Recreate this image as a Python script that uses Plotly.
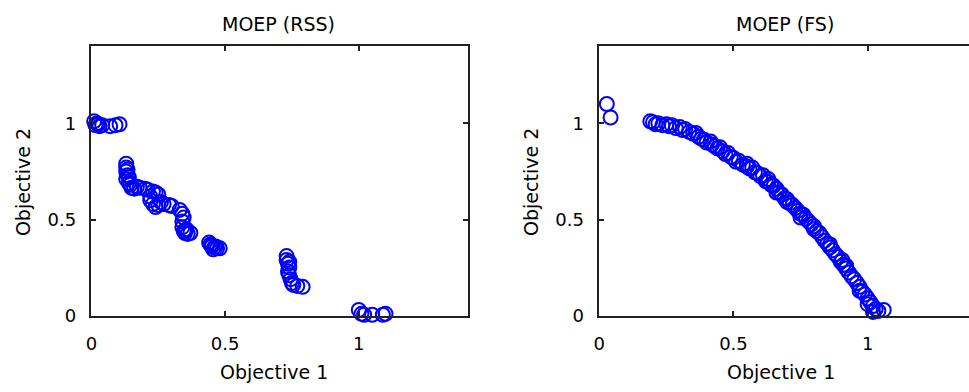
import plotly.graph_objects as go

# ---- data: MOEP (RSS) ----
rss_x = [0.01, 0.015, 0.02, 0.03, 0.04, 0.07, 0.09, 0.105, 0.025,
         0.13, 0.13, 0.13, 0.135, 0.13, 0.14, 0.145, 0.15, 0.16, 0.14, 0.135,
         0.18, 0.20, 0.21, 0.23, 0.25, 0.22, 0.17, 0.24,
         0.22, 0.23, 0.25, 0.27, 0.29, 0.30, 0.24, 0.26,
         0.33, 0.34, 0.345, 0.34,
         0.34, 0.345, 0.35, 0.36, 0.37, 0.355, 0.35,
         0.44, 0.445, 0.45, 0.46, 0.47, 0.455, 0.465, 0.48, 0.45,
         0.73, 0.73, 0.735, 0.74, 0.735, 0.74, 0.745, 0.75, 0.755, 0.77, 0.79, 0.74,
         1.00, 1.01, 1.02, 1.05, 1.09, 1.10]
rss_y = [1.01, 0.99, 1.0, 0.985, 0.99, 0.985, 0.99, 0.995, 0.995,
         0.79, 0.77, 0.75, 0.73, 0.71, 0.69, 0.68, 0.665, 0.66, 0.72, 0.76,
         0.665, 0.66, 0.655, 0.645, 0.63, 0.62, 0.67, 0.64,
         0.60, 0.58, 0.575, 0.58, 0.575, 0.57, 0.565, 0.59,
         0.55, 0.53, 0.51, 0.49,
         0.46, 0.44, 0.43, 0.425, 0.43, 0.45, 0.44,
         0.38, 0.37, 0.36, 0.355, 0.35, 0.345, 0.36, 0.35, 0.365,
         0.31, 0.29, 0.27, 0.25, 0.23, 0.21, 0.19, 0.17, 0.16, 0.155, 0.15, 0.28,
         0.03, 0.01, 0.005, 0.005, 0.005, 0.01]

# ---- data: MOEP (FS) ----
fs_x = [0.028, 0.042,
        0.19, 0.20, 0.21, 0.22, 0.235, 0.25, 0.26, 0.27, 0.285, 0.30, 0.31, 0.32, 0.335, 0.35,
        0.36, 0.37, 0.38, 0.39, 0.40, 0.415, 0.43, 0.44, 0.45, 0.46, 0.47, 0.48, 0.49, 0.50,
        0.51, 0.52, 0.535, 0.55, 0.56, 0.57, 0.58, 0.59, 0.60, 0.61, 0.62, 0.63, 0.64, 0.65,
        0.66, 0.67, 0.68, 0.69, 0.70, 0.71, 0.72, 0.73, 0.74, 0.75, 0.76, 0.77, 0.78, 0.79,
        0.80, 0.81, 0.82, 0.83, 0.84, 0.85, 0.86, 0.87, 0.88, 0.89, 0.90, 0.905, 0.91, 0.92,
        0.93, 0.94, 0.95, 0.96, 0.97, 0.98, 0.99, 1.00, 1.01, 1.02, 1.03, 1.04, 1.06,
        0.42, 0.55, 0.63, 0.66, 0.70, 0.75, 0.80, 0.86, 0.92, 0.97, 1.00, 1.02]
fs_y = [1.10, 1.03,
        1.01, 1.005, 0.995, 1.0, 0.99, 0.995, 0.985, 0.99, 0.975, 0.98, 0.965, 0.97, 0.955, 0.945,
        0.95, 0.93, 0.92, 0.915, 0.90, 0.905, 0.88, 0.87, 0.875, 0.855, 0.84, 0.845, 0.825, 0.82,
        0.80, 0.805, 0.785, 0.775, 0.765, 0.77, 0.745, 0.74, 0.725, 0.73, 0.70, 0.695, 0.68, 0.675,
        0.66, 0.64, 0.63, 0.61, 0.605, 0.585, 0.575, 0.56, 0.545, 0.53, 0.525, 0.505, 0.49, 0.475,
        0.465, 0.44, 0.43, 0.41, 0.39, 0.375, 0.355, 0.34, 0.32, 0.305, 0.28, 0.29, 0.265, 0.245,
        0.225, 0.205, 0.19, 0.17, 0.15, 0.125, 0.11, 0.09, 0.07, 0.05, 0.035, 0.025, 0.03,
        0.89, 0.79, 0.71, 0.64, 0.59, 0.51, 0.45, 0.37, 0.26, 0.13, 0.06, 0.02]

titles = ["MOEP (RSS)", "MOEP (FS)"]
xlabel = "Objective 1"
ylabel = "Objective 2"
tick_vals = [0, 0.5, 1]
tick_text = ["0", "0.5", "1"]

W, H = 969, 392
FONT = "DejaVu Sans"
BLUE = "#0000FF"

marker = dict(symbol="circle-open", size=14, color=BLUE, line=dict(width=2, color=BLUE))

fig = go.Figure()
fig.add_trace(go.Scatter(x=rss_x, y=rss_y, mode="markers", marker=marker,
                         xaxis="x", yaxis="y", showlegend=False, cliponaxis=False))
fig.add_trace(go.Scatter(x=fs_x, y=fs_y, mode="markers", marker=marker,
                         xaxis="x2", yaxis="y2", showlegend=False, cliponaxis=False))

ydom = [(H - 324) / H, (H - 47.5) / H]
ax_common = dict(showgrid=False, zeroline=False, showline=True, linecolor="#222",
                 linewidth=1.5, ticks="inside", ticklen=5, tickwidth=1.5, tickcolor="#222",
                 tickvals=tick_vals, ticktext=tick_text,
                 tickfont=dict(family=FONT, size=18, color="black"))

fig.update_layout(
    width=W, height=H, margin=dict(l=0, r=0, t=0, b=0),
    paper_bgcolor="white", plot_bgcolor="white",
    xaxis=dict(ax_common, domain=[86 / W, 465 / W], range=[0, 1.409], mirror="ticks",
               anchor="y", ticklabelstandoff=11),
    yaxis=dict(ax_common, domain=ydom, range=[0, 1.4], mirror="ticks", anchor="x",
               ticklabelstandoff=10),
    xaxis2=dict(ax_common, domain=[597 / W, 1.0], range=[0, 372 / 270], mirror="ticks",
                anchor="y2", ticklabelstandoff=11),
    yaxis2=dict(ax_common, domain=ydom, range=[0, 1.4], mirror=False, anchor="x2",
                ticklabelstandoff=10),
)

ann_font = dict(family=FONT, size=19, color="black")
annotations = [
    dict(text=titles[0], x=274 / W, y=(H - 25) / H, font=ann_font),
    dict(text=titles[1], x=784 / W, y=(H - 25) / H, font=ann_font),
    dict(text=xlabel, x=270 / W, y=(H - 382) / H, font=ann_font),
    dict(text=xlabel, x=780 / W, y=(H - 382) / H, font=ann_font),
    dict(text=ylabel, x=17 / W, y=(H - 187) / H, font=ann_font, textangle=-90),
    dict(text=ylabel, x=529 / W, y=(H - 187) / H, font=ann_font, textangle=-90),
]
for a in annotations:
    a.update(xref="paper", yref="paper", showarrow=False, xanchor="center", yanchor="middle")
fig.update_layout(annotations=annotations)

fig.write_html("out.html")
